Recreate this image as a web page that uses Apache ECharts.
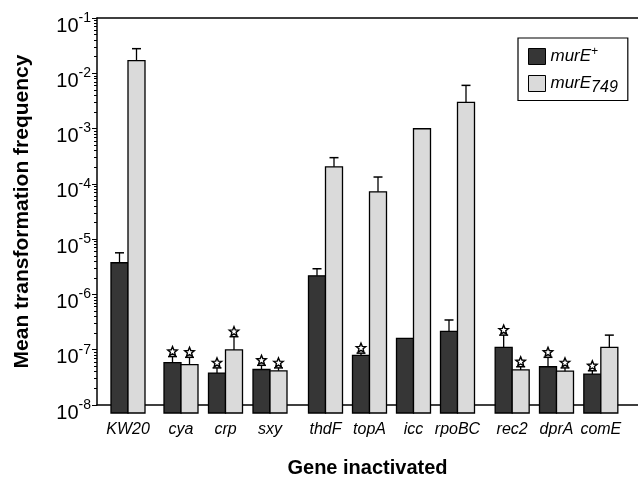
<!DOCTYPE html>
<html><head><meta charset="utf-8">
<script src="https://cdn.jsdelivr.net/npm/echarts@6/dist/echarts.min.js"></script>
<style>html,body{margin:0;padding:0;background:#fff}#c{width:638px;height:483px}</style>
</head><body><div id="c"></div>
<script>
// ---- data ----
const categories = ['KW20','cya','crp','sxy','thdF','topA','icc','rpoBC','rec2','dprA','comE'];
const groupSizes = [1, 3, 4, 3];
const murEPlus   = [4.6e-6, 7.8e-8, 5.1e-8, 5.9e-8, 2.7e-6, 1.05e-7, 2.1e-7, 2.8e-7, 1.46e-7, 6.6e-8, 4.9e-8];
const murEPlusErr= [6.9e-6, 1.0e-7, 6.3e-8, 7.0e-8, 3.6e-6, 1.15e-7, null, 4.45e-7, 2.4e-7, 9.7e-8, 5.6e-8];
const murEPlusStar=[0,1,1,1,0,1,0,0,1,1,1];
const murE749    = [1.75e-2, 7.2e-8, 1.31e-7, 5.6e-8, 2.3e-4, 8.3e-5, 1.09e-3, 3.2e-3, 5.8e-8, 5.5e-8, 1.46e-7];
const murE749Err = [2.86e-2, 9.7e-8, 2.25e-7, 6.3e-8, 3.35e-4, 1.52e-4, null, 6.4e-3, 6.6e-8, 6.3e-8, 2.4e-7];
const murE749Star= [0,1,1,1,0,0,0,0,1,1,0];

// ---- layout / style ----
const DARK = '#363636', LIGHT = '#dadada';
const Y_MIN = 1e-8, Y_MAX = 1e-1;
const plotTop = 18, plotBottom = 70;
const groupGrids = [
  {left: 106, width: 44},
  {left: 158.75, width: 133.5},
  {left: 303.5, width: 176},
  {left: 490, width: 133}
];
const BARW = 17;

const grids = [{left: 97, right: 0, top: plotTop, bottom: plotBottom}];
const xAxes = [
  {gridIndex: 0, type: 'category', data: [''], position: 'bottom',
   axisLine: {show: true, lineStyle: {color: '#000', width: 1.5}},
   axisTick: {show: false}, axisLabel: {show: false},
   name: 'Gene inactivated', nameLocation: 'middle', nameGap: 53,
   nameTextStyle: {fontFamily: 'Liberation Sans', fontWeight: 'bold', fontSize: 20, color: '#000'}},
  {gridIndex: 0, type: 'category', data: [''], position: 'top',
   axisLine: {show: true, lineStyle: {color: '#000', width: 1.5}},
   axisTick: {show: false}, axisLabel: {show: false}}
];
const yAxes = [
  {gridIndex: 0, type: 'log', logBase: 10, min: Y_MIN, max: Y_MAX,
   axisLine: {show: true, lineStyle: {color: '#000', width: 1.5}},
   axisTick: {show: true, length: 5, lineStyle: {color: '#000'}},
   minorTick: {show: true, splitNumber: 9, length: 3, lineStyle: {color: '#000'}},
   splitLine: {show: false},
   axisLabel: {
     margin: 6, color: '#000',
     formatter: function (v) {
       const e = Math.round(Math.log10(v));
       return '{b|10}{s|' + e + '}';
     },
     rich: {
       b: {fontFamily: 'Liberation Sans', fontSize: 20, lineHeight: 20, color: '#000', padding: [16, 0, 0, 0]},
       s: {fontFamily: 'Liberation Sans', fontSize: 14, lineHeight: 14, color: '#000'}
     }
   },
   name: 'Mean transformation frequency', nameLocation: 'middle', nameGap: 64,
   nameTextStyle: {fontFamily: 'Liberation Sans', fontWeight: 'bold', fontSize: 21, color: '#000'}}
];

function starPoints(cx, cy, R, r) {
  const pts = [];
  for (let i = 0; i < 10; i++) {
    const ang = -Math.PI / 2 + i * Math.PI / 5;
    const rad = i % 2 === 0 ? R : r;
    pts.push([cx + rad * Math.cos(ang), cy + rad * Math.sin(ang)]);
  }
  return pts;
}

function makeBarRender(offset, color) {
  return function (params, api) {
    const x = api.value(0), v = api.value(1), e = api.value(2), s = api.value(3);
    const top = api.coord([x, v]);
    const bottom = api.coord([x, Y_MIN]);
    const cx = top[0] + offset;
    const children = [{
      type: 'rect',
      shape: {x: cx - BARW / 2, y: top[1], width: BARW, height: bottom[1] - top[1]},
      style: {fill: color, stroke: '#000', lineWidth: 1.3}
    }];
    let topY = top[1];
    if (e && e > 0 && !isNaN(e)) {
      const t = api.coord([x, e]);
      topY = t[1];
      children.push({type: 'line', shape: {x1: cx, y1: top[1], x2: cx, y2: topY},
        style: {stroke: '#000', lineWidth: 1.3}});
      children.push({type: 'line', shape: {x1: cx - 4.5, y1: topY, x2: cx + 4.5, y2: topY},
        style: {stroke: '#000', lineWidth: 1.5}});
    }
    if (s) {
      children.push({type: 'polygon', shape: {points: starPoints(cx, topY - 5, 5, 2.2)},
        style: {fill: '#fff', stroke: '#000', lineWidth: 1.4}});
    }
    return {type: 'group', children: children};
  };
}

const series = [];
let start = 0;
groupSizes.forEach(function (n, g) {
  const gi = g + 1;
  const cats = categories.slice(start, start + n);
  grids.push({left: groupGrids[g].left, width: groupGrids[g].width, top: plotTop, bottom: plotBottom});
  xAxes.push({gridIndex: gi, type: 'category', data: cats,
    axisLine: {show: false}, axisTick: {show: false},
    axisLabel: {margin: 9, interval: 0, fontFamily: 'Liberation Sans', fontStyle: 'italic', fontSize: 16, color: '#000'}});
  yAxes.push({gridIndex: gi, type: 'log', logBase: 10, min: Y_MIN, max: Y_MAX, show: false});
  const dPlus = [], d749 = [];
  for (let i = 0; i < n; i++) {
    const k = start + i;
    dPlus.push([i, murEPlus[k], murEPlusErr[k] == null ? 0 : murEPlusErr[k], murEPlusStar[k]]);
    d749.push([i, murE749[k], murE749Err[k] == null ? 0 : murE749Err[k], murE749Star[k]]);
  }
  series.push({type: 'custom', name: 'murE+', xAxisIndex: gi + 1, yAxisIndex: gi, silent: true,
    itemStyle: {color: DARK, borderColor: '#000', borderWidth: 1},
    renderItem: makeBarRender(-BARW / 2, DARK), data: dPlus});
  series.push({type: 'custom', name: 'murE749', xAxisIndex: gi + 1, yAxisIndex: gi, silent: true,
    itemStyle: {color: LIGHT, borderColor: '#000', borderWidth: 1},
    renderItem: makeBarRender(BARW / 2, LIGHT), data: d749});
  start += n;
});

const chart = echarts.init(document.getElementById('c'), null, {renderer: 'canvas'});
chart.setOption({
  animation: false,
  backgroundColor: '#fff',
  grid: grids, xAxis: xAxes, yAxis: yAxes,
  legend: {
    data: ['murE+', 'murE749'], orient: 'vertical', left: 518, top: 38,
    padding: [8, 10, 5, 10], itemWidth: 17, itemHeight: 16, itemGap: 10,
    borderColor: '#000', borderWidth: 1.2, backgroundColor: '#fff',
    icon: 'rect',
    itemStyle: {borderColor: '#000', borderWidth: 1},
    formatter: function (name) {
      return name === 'murE+' ? '{i|murE}{sup|+}' : '{i|murE}{sub|749}';
    },
    textStyle: {
      color: '#000',
      rich: {
        i: {fontFamily: 'Liberation Sans', fontStyle: 'italic', fontSize: 17, color: '#000'},
        sup: {fontFamily: 'Liberation Sans', fontStyle: 'italic', fontSize: 12, color: '#000', padding: [0, 0, 9, 0]},
        sub: {fontFamily: 'Liberation Sans', fontStyle: 'italic', fontSize: 16, color: '#000', padding: [8, 0, 0, 0]}
      }
    }
  },
  series: series
});
</script></body></html>
